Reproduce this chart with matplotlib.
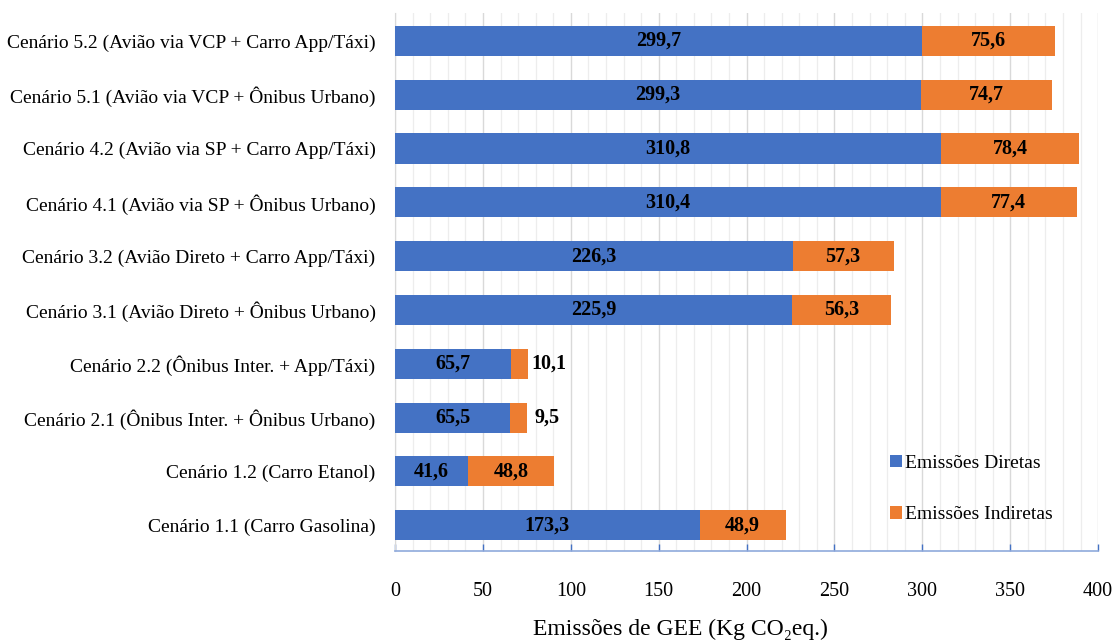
import matplotlib
matplotlib.use("Agg")
import matplotlib.pyplot as plt
from matplotlib.ticker import MultipleLocator

# Scenario names (bottom to top) and emissions per passenger (kg CO2eq.)
categories = [
    "Cenário 1.1 (Carro Gasolina)",
    "Cenário 1.2 (Carro Etanol)",
    "Cenário 2.1 (Ônibus Inter. + Ônibus Urbano)",
    "Cenário 2.2 (Ônibus Inter. + App/Táxi)",
    "Cenário 3.1 (Avião Direto + Ônibus Urbano)",
    "Cenário 3.2 (Avião Direto + Carro App/Táxi)",
    "Cenário 4.1 (Avião via SP + Ônibus Urbano)",
    "Cenário 4.2 (Avião via SP + Carro App/Táxi)",
    "Cenário 5.1 (Avião via VCP + Ônibus Urbano)",
    "Cenário 5.2 (Avião via VCP + Carro App/Táxi)",
]
direct = [173.3, 41.6, 65.5, 65.7, 225.9, 226.3, 310.4, 310.8, 299.3, 299.7]
indirect = [48.9, 48.8, 9.5, 10.1, 56.3, 57.3, 77.4, 78.4, 74.7, 75.6]
xticks = [0, 50, 100, 150, 200, 250, 300, 350, 400]

BLUE = "#4472C4"
ORANGE = "#ED7D31"
SERIF = ["Liberation Serif", "DejaVu Serif"]

plt.rcParams["font.family"] = SERIF

fig = plt.figure(figsize=(11.16, 6.43), dpi=100)
ax = fig.add_axes([0.354, 0.143, 0.630, 0.837])

y = list(range(len(categories)))
ax.barh(y, direct, height=0.56, color=BLUE, label="Emissões Diretas", zorder=3)
ax.barh(y, indirect, left=direct, height=0.56, color=ORANGE,
        label="Emissões Indiretas", zorder=3)

def fmt(v):
    return f"{v:.1f}".replace(".", ",")

VAL_FS = 14.5
for yi, d, i in zip(y, direct, indirect):
    ax.text(d / 2, yi, fmt(d), ha="center", va="center", fontsize=VAL_FS,
            fontweight="bold", zorder=4)
    if i >= 15:
        ax.text(d + i / 2, yi, fmt(i), ha="center", va="center",
                fontsize=VAL_FS, fontweight="bold", zorder=4)
    else:
        ax.text(d + i + 11.5, yi, fmt(i), ha="center", va="center",
                fontsize=VAL_FS, fontweight="bold", zorder=4)

ax.set_xlim(0, 400)
ax.set_ylim(-0.48, 9.52)
ax.set_yticks(y)
ax.set_yticklabels(categories, fontsize=14)
ax.set_xticks(xticks)
ax.set_xticklabels([str(t) for t in xticks], fontsize=14.5)
ax.xaxis.set_minor_locator(MultipleLocator(10))

ax.grid(axis="x", which="major", color="#d9d9d9", linewidth=1.0, zorder=0)
ax.grid(axis="x", which="minor", color="#ededed", linewidth=0.9, zorder=0)
ax.tick_params(axis="y", length=0, pad=14)
ax.tick_params(axis="x", which="major", direction="in", length=5,
               color="#4472C4", width=1.0, pad=22)
ax.tick_params(axis="x", which="minor", length=0)

for side in ("top", "right"):
    ax.spines[side].set_visible(False)
ax.spines["left"].set_color("#d9d9d9")
ax.spines["bottom"].set_color("#8faadc")
ax.spines["bottom"].set_linewidth(1.2)

fig.text(0.610, 0.021, "Emissões de GEE (Kg CO₂eq.)", fontsize=17,
         ha="center", va="center")

ax.legend(loc="center left", bbox_to_anchor=(0.69, 0.115), frameon=False,
          fontsize=14, handlelength=0.6, handleheight=0.6, handletextpad=0.2,
          labelspacing=1.75, borderpad=0)

fig.savefig("out.png", dpi=100)
